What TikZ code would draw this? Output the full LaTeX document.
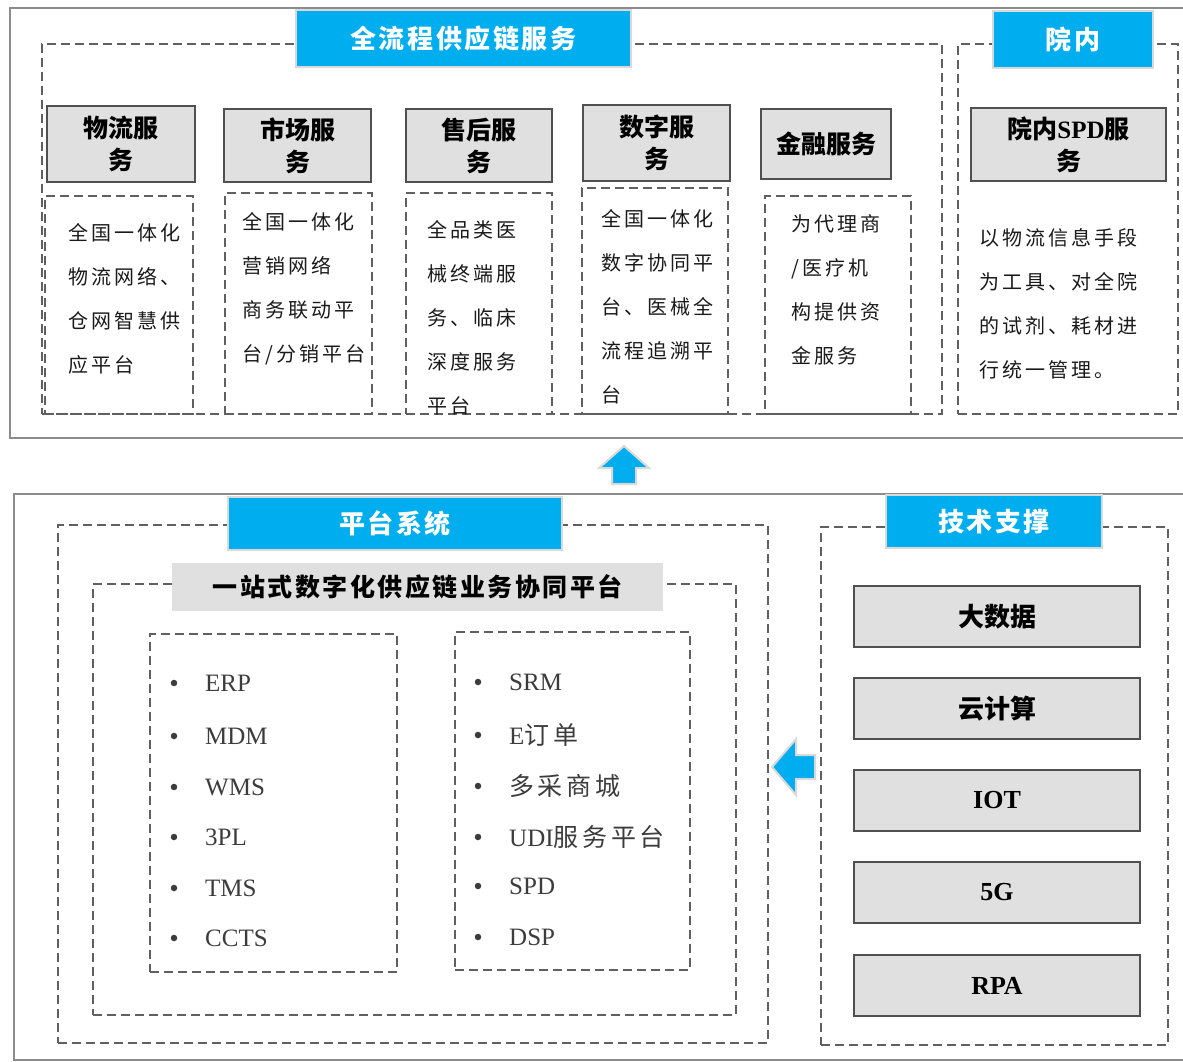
\documentclass[tikz,border=0pt]{standalone}
\usepackage{fontspec}
\setmainfont{Liberation Serif}
\newfontfamily\cjk{Noto Sans CJK SC}
\newfontfamily\cjkw[LetterSpace=15]{Noto Sans CJK SC}
\newfontfamily\cjkt[LetterSpace=10]{Noto Sans CJK SC}
\definecolor{titleblue}{HTML}{00ADEE}
\definecolor{framegray}{HTML}{8C8C8C}
\definecolor{dashgray}{HTML}{606060}
\definecolor{hdrfill}{HTML}{E0E0E0}
\definecolor{hdredge}{HTML}{505050}
\definecolor{lightedge}{HTML}{D9D9D9}
\definecolor{bodytext}{HTML}{1A1A1A}
\definecolor{itemtext}{HTML}{3C3C3C}
\newcommand\rbox[7]{\node[#2, minimum width={(#5-#3)*1pt}, minimum height={(#6-#4)*1pt}] (#1) at ({(#3+#5)/2},{(#4+#6)/2}) {#7};}
\tikzset{
 grayframe/.style={draw=framegray, line width=2.5pt},
 dbox/.style={draw=dashgray, line width=2.6pt, dash pattern=on 9pt off 5pt, inner sep=0pt, outer sep=0pt},
 bluetitle/.style={fill=titleblue, draw=lightedge, line width=2.5pt, text=white, font=\cjkt\bfseries\fontsize{26}{30}\selectfont, inner sep=0pt},
 hdr/.style={fill=hdrfill, draw=hdredge, line width=2.5pt, align=center, font=\cjk\bfseries\fontsize{25}{32}\selectfont, inner sep=0pt},
 graylabel/.style={fill=hdrfill, inner sep=0pt, font=\cjkt\bfseries\fontsize{25}{30}\selectfont},
 bodytxt/.style={align=left, anchor=north west, inner sep=0pt, text=bodytext, font=\cjkw\fontsize{20}{44}\selectfont},
 tech/.style={fill=hdrfill, draw=hdredge, line width=2.5pt, font=\bfseries\fontsize{26}{30}\selectfont, inner sep=0pt},
 item/.style={anchor=west, inner sep=0pt, text=itemtext, font=\fontsize{25}{28}\selectfont},
 bul/.style={circle, inner sep=0pt, minimum size=6.5pt, fill=itemtext},
 blockarrow/.style={fill=titleblue, draw=lightedge, line width=2pt},
}
\begin{document}
\begin{tikzpicture}[x=1pt,y=-1pt]
\useasboundingbox[fill=white] (0,0) rectangle (1183,1062);
% ---------- top section ----------
\rbox{topframe}{grayframe}{10}{8}{1200}{438}{}
\rbox{dmain}{dbox}{42}{44}{942}{414}{}
\rbox{dyuan}{dbox}{958}{44}{1178}{414}{}
\rbox{c1}{dbox}{45}{196}{193}{414}{}
\rbox{c2}{dbox}{225}{193}{372}{414}{}
\rbox{c3}{dbox}{406}{193}{552}{414}{}
\rbox{c4}{dbox}{582}{188}{728}{414}{}
\rbox{c5}{dbox}{765}{196}{911}{414}{}
\rbox{t1}{bluetitle}{296}{10}{631}{67}{全流程供应链服务}
\rbox{t2}{bluetitle}{993}{11}{1153}{68}{院内}
\rbox{h1}{hdr}{47}{106}{195}{182}{物流服\\务}
\rbox{h2}{hdr}{224}{109}{371}{182}{市场服\\务}
\rbox{h3}{hdr}{406}{109}{552}{182}{售后服\\务}
\rbox{h4}{hdr}{583}{105}{730}{181}{数字服\\务}
\rbox{h5}{hdr}{761}{109}{891}{179}{金融服务}
\rbox{h6}{hdr}{971}{108}{1166}{181}{院内{\rmfamily SPD}服\\务}
\node[bodytxt] (b1) at (68,223) {全国一体化\\物流网络、\\仓网智慧供\\应平台};
\node[bodytxt] (b2) at (242,212) {全国一体化\\营销网络\\商务联动平\\台/分销平台};
\node[bodytxt] (b3) at (427,220) {全品类医\\械终端服\\务、临床\\深度服务\\平台};
\node[bodytxt] (b4) at (601,209) {全国一体化\\数字协同平\\台、医械全\\流程追溯平\\台};
\node[bodytxt] (b5) at (791,214) {为代理商\\/医疗机\\构提供资\\金服务};
\node[bodytxt] (b6) at (979,228) {以物流信息手段\\为工具、对全院\\的试剂、耗材进\\行统一管理。};
% up arrow
\draw[blockarrow] (624,446) -- (649,468) -- (636,468) -- (636,484) -- (612,484) -- (612,468) -- (599,468) -- cycle;
% ---------- bottom section ----------
\rbox{botframe}{grayframe}{14}{494}{1200}{1060}{}
\rbox{dplat}{dbox}{58}{525}{768}{1043}{}
\rbox{dinner}{dbox}{93}{584}{736}{1015}{}
\rbox{l1}{dbox}{150}{634}{397}{972}{}
\rbox{l2}{dbox}{455}{632}{690}{970}{}
\rbox{dtech}{dbox}{821}{527}{1168}{1045}{}
\rbox{t3}{bluetitle}{228}{497}{562}{550}{平台系统}
\rbox{t4}{bluetitle}{886}{495}{1102}{548}{技术支撑}
\rbox{glabel}{graylabel}{172}{563}{663}{611}{一站式数字化供应链业务协同平台}
\foreach \y/\t [count=\i] in {683/ERP,736/MDM,787/WMS,837/3PL,888/TMS,938/CCTS}{
  \node[bul] (lb\i) at (174,\y) {};
  \node[item] (li\i) at (205,\y) {\t};
}
\foreach \y/\t [count=\i] in {682/SRM,735/E{\cjkw 订单},786/{\cjkw 多采商城},837/UDI{\cjkw 服务平台},886/SPD,937/DSP}{
  \node[bul] (rb\i) at (478,\y) {};
  \node[item] (ri\i) at (509,\y) {\t};
}
\rbox{k1}{tech}{854}{586}{1140}{647}{\cjk\bfseries 大数据}
\rbox{k2}{tech}{854}{678}{1140}{739}{\cjk\bfseries 云计算}
\rbox{k3}{tech}{854}{770}{1140}{831}{IOT}
\rbox{k4}{tech}{854}{862}{1140}{923}{5G}
\rbox{k5}{tech}{854}{955}{1140}{1016}{RPA}
% left arrow
\draw[blockarrow] (772,767) -- (796,739) -- (796,755) -- (815,755) -- (815,779) -- (796,779) -- (796,795) -- cycle;
\end{tikzpicture}
\end{document}
